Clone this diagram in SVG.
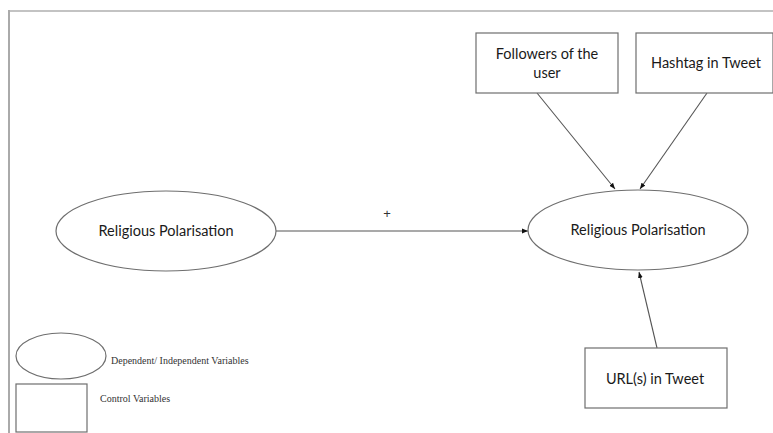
<svg xmlns="http://www.w3.org/2000/svg" width="773" height="433" viewBox="0 0 773 433">
<style>
.node{fill:#fff;stroke:#6e6e6e;stroke-width:1.2}
.lbl{font-family:Lato,"Open Sans",sans-serif;font-size:14.5px;fill:#1a1a1a;text-anchor:middle}
.leg{font-family:"Liberation Serif","Times New Roman",serif;font-size:10px;fill:#333}
.conn{stroke:#555;stroke-width:1.1;fill:none;marker-end:url(#ah)}
</style>
<defs>
<marker id="ah" viewBox="0 0 10 10" refX="10" refY="5" markerWidth="6" markerHeight="6" markerUnits="userSpaceOnUse" orient="auto">
<path d="M0,1 L10,5 L0,9 z" fill="#111"/>
</marker>
</defs>
<rect width="773" height="433" fill="#fff"/>
<g id="frame">
<line x1="9" y1="11" x2="773" y2="11" stroke="#888" stroke-width="1.2"/>
<line x1="9" y1="10" x2="9" y2="433" stroke="#aaa" stroke-width="2"/>
</g>
<g id="connectors">
<line class="conn" x1="276" y1="231" x2="528" y2="231"/>
<line class="conn" x1="537" y1="93" x2="615" y2="189"/>
<line class="conn" x1="707" y1="93" x2="640" y2="189"/>
<line class="conn" x1="657" y1="348" x2="639" y2="272"/>
<text x="387" y="218" font-family="Liberation Sans,sans-serif" font-size="13" fill="#333" text-anchor="middle">+</text>
</g>
<g id="rp-left">
<ellipse class="node" cx="166" cy="231" rx="110" ry="40"/>
<text class="lbl" x="166" y="236">Religious Polarisation</text>
</g>
<g id="rp-right">
<ellipse class="node" cx="638" cy="230" rx="110" ry="40"/>
<text class="lbl" x="638" y="235">Religious Polarisation</text>
</g>
<g id="followers">
<rect class="node" x="476" y="33" width="142" height="60"/>
<text class="lbl" x="547" y="59">Followers of the</text>
<text class="lbl" x="547" y="78">user</text>
</g>
<g id="hashtag">
<rect class="node" x="636" y="33" width="137" height="60"/>
<text class="lbl" x="706" y="68">Hashtag in Tweet</text>
</g>
<g id="url">
<rect class="node" x="585" y="348" width="142" height="60"/>
<text class="lbl" x="655" y="384">URL(s) in Tweet</text>
</g>
<g id="legend-ellipse">
<ellipse class="node" cx="61" cy="356" rx="45" ry="23"/>
<text class="leg" x="111" y="364">Dependent/ Independent Variables</text>
</g>
<g id="legend-rect">
<rect class="node" x="16" y="384" width="71" height="48"/>
<text class="leg" x="100" y="402">Control Variables</text>
</g>
</svg>
